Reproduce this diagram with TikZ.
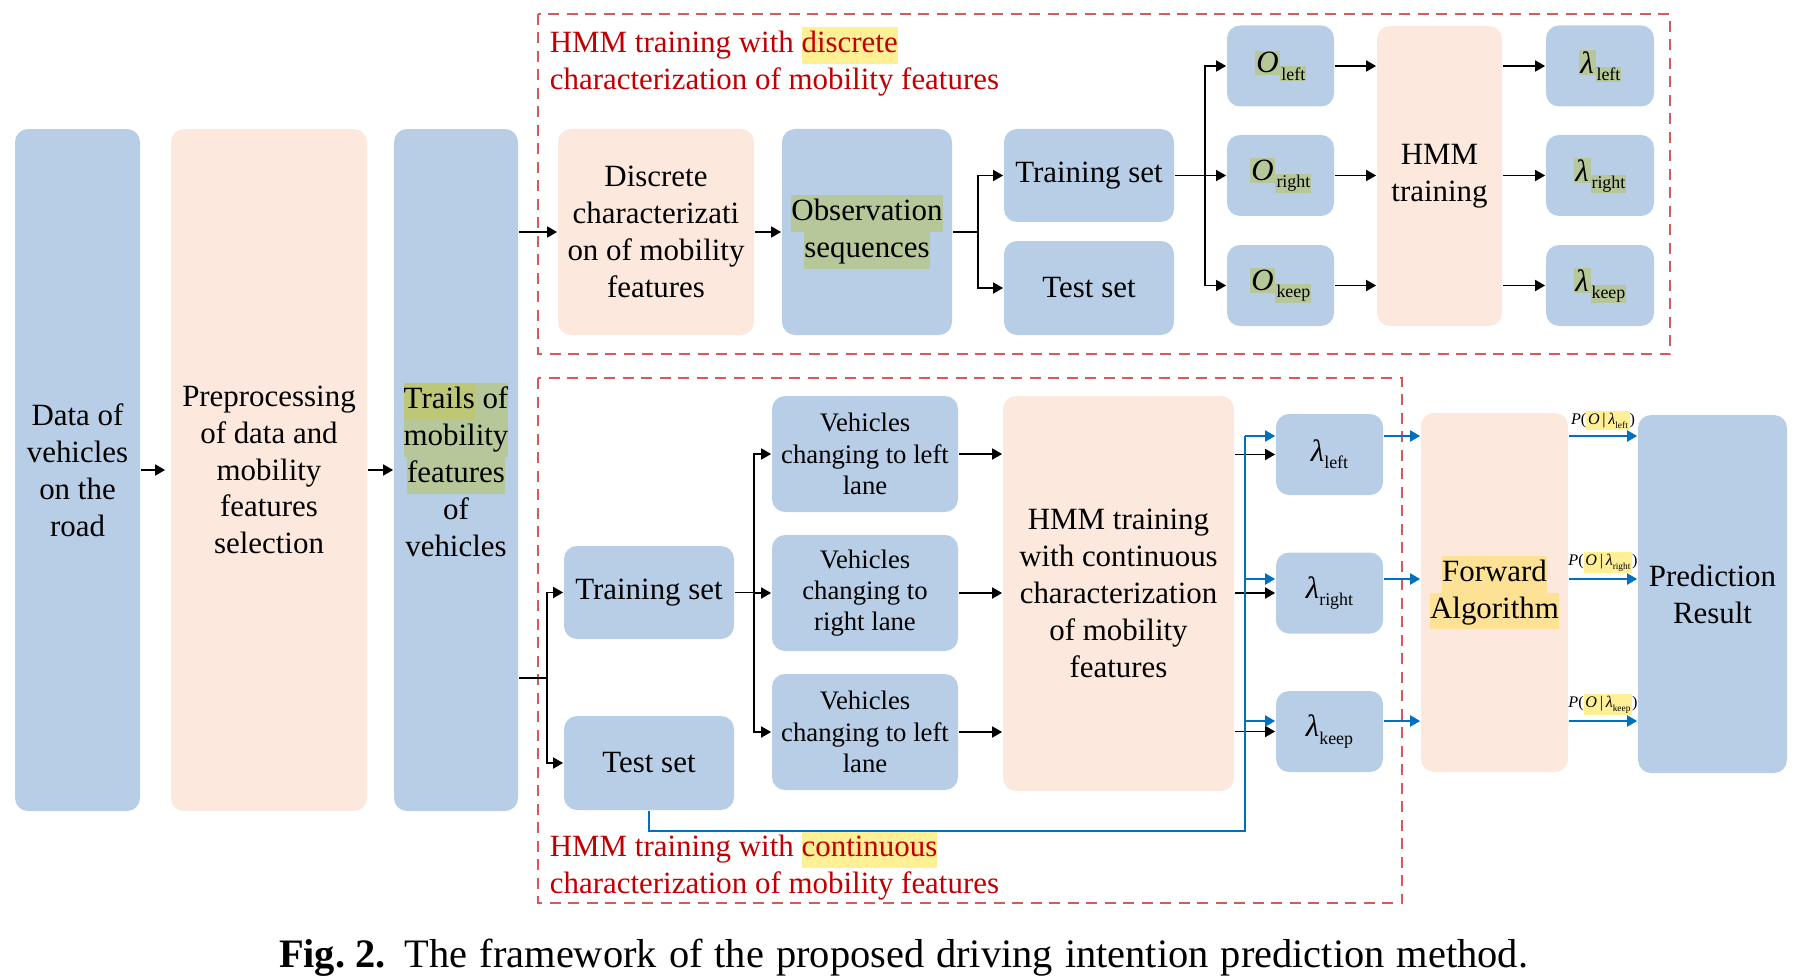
\documentclass[tikz,border=0pt]{standalone}
\usepackage{fontspec}
\setmainfont{Liberation Serif}
\usepackage{xcolor}
\usetikzlibrary{arrows.meta}

\definecolor{boxblue}{RGB}{184,206,230}
\definecolor{boxpeach}{RGB}{252,232,220}
\definecolor{hlgreen}{RGB}{182,200,154}
\definecolor{hlolive}{RGB}{190,198,120}
\definecolor{hlyellow}{RGB}{255,240,150}
\definecolor{hlorange}{RGB}{253,226,150}
\definecolor{titlered}{RGB}{192,0,0}
\definecolor{dashred}{RGB}{214,90,90}
\definecolor{arrowblue}{RGB}{0,112,192}

\newcommand{\hlword}[2]{{\setlength{\fboxsep}{0pt}\colorbox{#1}{\strut #2}}}
\newcommand{\hlsym}[2]{{\setlength{\fboxsep}{0.5pt}\colorbox{#1}{#2}}}
\newcommand{\lowsub}[1]{\raisebox{-0.5ex}{\scalebox{0.58}{#1}}}

\begin{document}
\begin{tikzpicture}[x=0.1mm,y=-0.1mm,line width=0.5pt,
  every node/.style={font=\fontsize{8.8}{10.5}\selectfont},
  rbox/.style={rounded corners=1.3mm,inner sep=0pt,align=center},
  bbox/.style={rbox,fill=boxblue},
  pbox/.style={rbox,fill=boxpeach},
  vbox/.style={bbox,font=\fontsize{7.6}{8.9}\selectfont,minimum width=18.6mm,minimum height=11.6mm},
  arr/.style={-{Triangle[length=1mm,width=1.1mm]}},
  bline/.style={draw=arrowblue,line width=0.6pt},
  barr/.style={arr,bline},
  dashframe/.style={draw=dashred,dash pattern=on 1.1mm off 0.75mm,line width=0.6pt},
  redtitle/.style={text=titlered,align=left,anchor=north west,inner sep=0pt},
  plab/.style={font=\fontsize{4.6}{5}\selectfont,inner sep=0.3pt,above=0.4mm}]
\useasboundingbox (0,0) rectangle (1803,978);

\draw[dashframe] (538,14) rectangle (1670,354);
\draw[dashframe] (538,378) rectangle (1402,903);
\node[redtitle] (titletop) at (549,26) {HMM training with \hlword{hlyellow}{discrete}\\characterization of mobility features};
\node[redtitle] (titlebot) at (549,830) {HMM training with \hlword{hlyellow}{continuous}\\characterization of mobility features};

\node[bbox,minimum width=12.5mm,minimum height=68.2mm] (data) at (77.5,470) {Data of\\vehicles\\on the\\road};
\node[pbox,minimum width=19.6mm,minimum height=68.2mm] (prep) at (269,470) {Preprocessing\\of data and\\mobility\\features\\selection};
\node[bbox,minimum width=12.4mm,minimum height=68.2mm] (trails) at (456,470) {\hlword{hlolive}{Trails}\hlword{hlgreen}{\ of}\\\hlword{hlgreen}{mobility}\\\hlword{hlgreen}{features}\\of\\vehicles};
\draw[arr] (data) -- ([xshift=-0.5mm]prep.west);
\draw[arr] (prep) -- (trails);

\node[pbox,minimum width=19.6mm,minimum height=20.6mm] (disc) at (656,232) {Discrete\\characterizati\\on of mobility\\features};
\node[bbox,minimum width=17mm,minimum height=20.6mm] (obs) at (867,232) {\hlword{hlgreen}{Observation}\\\hlword{hlgreen}{sequences}};
\node[bbox,minimum width=17mm,minimum height=9.3mm] (traintop) at (1089,175.5) {Training set};
\node[bbox,minimum width=17mm,minimum height=9.4mm] (testtop) at (1089,288) {Test set};
\node[pbox,minimum width=12.5mm,minimum height=30mm] (hmm) at (1439.5,176) {HMM\\training};
\coordinate (s1) at (978,232);
\coordinate (s2) at (1205,175.5);
\draw[arr] (trails.east |- disc) -- (disc);
\draw[arr] (disc) -- (obs);
\draw (obs) -- (s1);
\draw[arr] (s1) |- (traintop);
\draw[arr] (s1) |- (testtop);
\draw (traintop) -- (s2);
\foreach \s/\y in {left/66,right/175.5,keep/285.5}{
  \node[bbox,minimum width=10.7mm,minimum height=8.1mm] (o\s) at (1280.5,\y) {\hlsym{hlgreen}{\itshape O}\lowsub{\hlsym{hlgreen}{\s}}};
  \node[bbox,minimum width=10.8mm,minimum height=8.1mm] (l\s) at (1600,\y) {\hlsym{hlgreen}{\itshape λ}\lowsub{\hlsym{hlgreen}{\s}}};
  \draw[arr] (s2) |- (o\s);
  \draw[arr] (o\s) -- (o\s -| hmm.west);
  \draw[arr] (l\s -| hmm.east) -- (l\s);
}

\node[bbox,minimum width=17mm,minimum height=9.3mm] (trainbot) at (649,592.5) {Training set};
\node[bbox,minimum width=17mm,minimum height=9.4mm] (testbot) at (649,763) {Test set};
\node[pbox,minimum width=23.1mm,minimum height=39.5mm] (hmmc) at (1118.5,593.5) {HMM training\\with continuous\\characterization\\of mobility\\features};
\node[pbox,minimum width=14.7mm,minimum height=35.9mm] (fwd) at (1494.5,592.5) {\hlword{hlorange}{Forward}\\\hlword{hlorange}{Algorithm}};
\node[bbox,minimum width=14.9mm,minimum height=35.8mm] (pred) at (1712.5,594) {Prediction\\Result};
\coordinate (s3) at (547,678);
\coordinate (s4) at (754,592.5);
\coordinate (s5) at (1245,831);
\draw (trails.east |- s3) -- (s3);
\draw[arr] (s3) |- (trainbot);
\draw[arr] (s3) |- (testbot);
\draw (trainbot) -- (s4);
\foreach \n/\y/\t in {1/454/{changing to left\\lane},2/593/{changing to\\right lane},3/732/{changing to left\\lane}}{
  \node[vbox] (veh\n) at (865,\y) {Vehicles\\\t};
  \draw[arr] (s4) |- (veh\n);
  \draw[arr] (veh\n) -- (veh\n -| hmmc.west);
}
\foreach \s/\y/\b in {left/454.5/436,right/593/579,keep/731.5/721}{
  \node[bbox,minimum width=10.7mm,minimum height=8.1mm] (m\s) at (1329.5,\y) {{\itshape λ}\lowsub{\s}};
  \coordinate (q\s) at (1245,\b);
  \draw[arr] (m\s -| hmmc.east) -- (m\s);
  \draw[barr] (q\s) -- (q\s -| m\s.west);
  \draw[barr] (q\s -| m\s.east) -- (q\s -| fwd.west);
  \draw[barr] (q\s -| fwd.east) -- (q\s -| pred.west) node[plab,midway] (p\s) {{\itshape P}(\hlsym{hlyellow}{{\itshape O}\,|\,{\itshape λ}\lowsub{\s}})};
}
\draw[bline] (testbot) |- (s5) -- (qleft);

\node[anchor=base,font=\fontsize{11.5}{13}\selectfont] (caption) at (903.5,967) {\makebox[124.9mm][s]{\textbf{Fig.\hspace{0.25em}2.} The framework of the proposed driving intention prediction method.}};
\end{tikzpicture}
\end{document}
